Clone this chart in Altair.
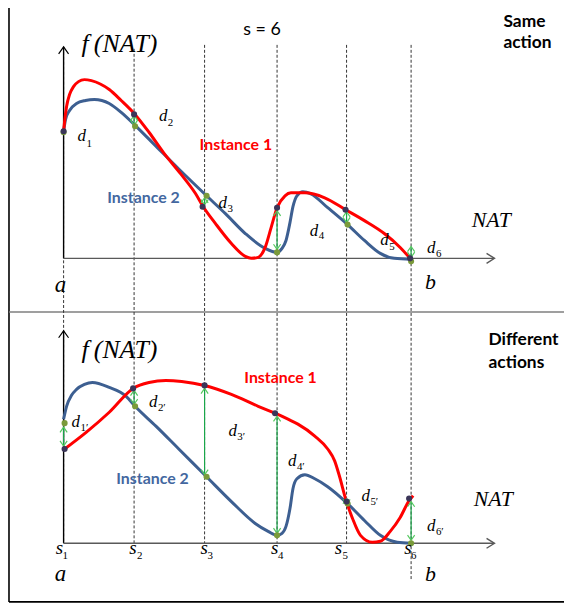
import altair as alt
import pandas as pd

# ---------------- data (reference pixel coordinates, y grows downward) ----------------
# top panel ("Same action")
top_red_x = [64, 65, 67, 70, 74, 79, 85, 92, 110, 122, 135, 150, 165, 182, 197, 204, 217, 233, 247, 253, 260, 267, 273, 279, 287, 293, 307, 327, 348, 367, 387, 403, 413]
top_red_y = [130, 120, 105, 93, 85, 80, 78, 79, 88, 99, 112, 131, 152, 173, 193, 205, 223, 243, 256, 258, 257, 247, 227, 207, 195, 192, 192, 197, 209, 220, 233, 247, 258]
top_blue_x = [64, 66, 70, 77, 86, 95, 110, 122, 136, 157, 180, 208, 227, 247, 267, 279, 284, 288, 292, 295, 299, 305, 313, 330, 350, 367, 383, 397, 414]
top_blue_y = [130, 118, 109, 102, 99, 98, 102, 111, 124, 145, 168, 195, 213, 233, 248, 252, 248, 240, 222, 206, 195, 191, 193, 207, 224, 240, 253, 258, 259]

# bottom panel ("Different actions")
bot_blue_x = [64, 67, 72, 77, 85, 93, 110, 127, 136, 157, 180, 208, 233, 257, 270, 279, 284, 288, 292, 295, 299, 307, 317, 330, 350, 367, 383, 400, 414]
bot_blue_y = [420, 407, 396, 390, 385, 383, 388, 397, 407, 427, 450, 478, 503, 525, 533, 537, 535, 528, 510, 490, 480, 476, 480, 488, 505, 522, 537, 544, 545]
bot_red_x = [65, 87, 110, 134, 150, 167, 183, 206, 233, 260, 277, 290, 300, 317, 330, 337, 342, 348, 355, 363, 375, 383, 393, 403, 412, 416]
bot_red_y = [450, 433, 413, 389, 383, 381, 382, 386, 395, 407, 414, 420, 425, 437, 450, 462, 478, 500, 520, 537, 544, 543, 533, 519, 502, 497]

# sample points
dark_x = [64, 135, 204, 279, 348, 413, 65, 134, 206, 277, 349, 412]
dark_y = [130, 113, 206, 207, 209, 258, 450, 389, 386, 414, 503, 500]
green_x = [64, 136, 208, 279, 350, 414, 65, 136, 208, 279, 350, 414]
green_y = [131, 125, 195, 252, 224, 261, 424, 407, 478, 537, 505, 545]

# distance arrows (x, upper end, lower end)
arr_x = [135, 206, 279, 349, 414, 64, 135, 206, 279, 349, 414]
arr_y1 = [114, 197, 210, 211, 246, 428, 391, 389, 417, 500, 503]
arr_y2 = [124, 204, 249, 222, 257, 447, 405, 476, 535, 506, 542]

# dashed segment lines
s_x = [64, 135, 206, 279, 349, 414]
s_top = [45, 47, 43, 43, 43, 43]
s_bot = [545, 545, 545, 545, 545, 582]

# sans labels
lab_text = ["s = 6", "Same", "action", "Different", "actions", "Instance 1", "Instance 2", "Instance 1", "Instance 2"]
lab_x = [245, 507, 507, 492, 492, 201, 108, 246, 117]
lab_y = [33, 25, 46, 345, 368, 149, 202, 384, 485]
lab_color = ["#000000", "#000000", "#000000", "#000000", "#000000", "#ff0000", "#43679f", "#ff0000", "#43679f"]
lab_size = [18, 17.5, 17.5, 17.5, 17.5, 16, 16, 16, 16]
lab_bold = [False, True, True, True, True, True, True, True, True]

# serif italic labels (main glyphs)
math_text = ["f\u2009(NAT)", "NAT", "a", "b", "f\u2009(NAT)", "NAT", "a", "b",
             "d", "d", "d", "d", "d", "d", "d", "d", "d", "d", "d", "d",
             "s", "s", "s", "s", "s", "s"]
math_x = [82, 475, 55, 428, 82, 477, 55, 428,
          78, 160, 220, 312, 383, 430, 72, 150, 230, 290, 364, 430,
          56, 130, 202, 273, 337, 407]
math_y = [50, 226, 292, 289, 358, 507, 583, 583,
          140, 120, 207, 235, 245, 253, 428, 408, 437, 467, 502, 533,
          556, 556, 556, 556, 556, 556]
math_size = [26, 22, 23, 22, 26, 22, 23, 22] + [17] * 12 + [19] * 6

# subscripts
sub_text = ["1", "2", "3", "4", "5", "6", "1′", "2′", "3′", "4′", "5′", "6′",
            "1", "2", "3", "4", "5", "6"]
sub_x = [87, 169, 229, 321, 392, 439, 81, 159, 239, 299, 373, 439,
         63, 138, 209, 280, 345, 414]
sub_y = [146, 125, 211, 239, 250, 257, 432, 412, 441, 471, 506, 537,
         561, 561, 561, 561, 561, 561]

# frame / axis lines
ax_x1 = [64, 64, 64, 64]
ax_y1 = [45, 258, 331, 545]
ax_x2 = [64, 497, 64, 497]
ax_y2 = [258, 258, 545, 545]
ax_col = ["#000000", "#595959", "#000000", "#595959"]

frame_x1 = [9, 9, 9]
frame_y1 = [0, 312, 604]
frame_x2 = [9, 572, 572]
frame_y2 = [604, 312, 604]
frame_col = ["#000000", "#7f7f7f", "#000000"]

# ---------------- chart ----------------
W, H = 560, 597
X0, Y0 = 8, 8
xs = alt.Scale(domain=[X0, X0 + W], nice=False, zero=False)
ys = alt.Scale(domain=[Y0 + H, Y0], nice=False, zero=False)


def X(f):
    return alt.X(f, type="quantitative", scale=xs, axis=None)


def Y(f):
    return alt.Y(f, type="quantitative", scale=ys, axis=None)


curves = pd.concat([
    pd.DataFrame({"x": top_blue_x, "y": top_blue_y, "c": "tb", "col": "#3d5f91"}),
    pd.DataFrame({"x": bot_blue_x, "y": bot_blue_y, "c": "bb", "col": "#3d5f91"}),
    pd.DataFrame({"x": top_red_x, "y": top_red_y, "c": "tr", "col": "#ff0000"}),
    pd.DataFrame({"x": bot_red_x, "y": bot_red_y, "c": "br", "col": "#ff0000"}),
])
curves["i"] = range(len(curves))

frame_df = pd.DataFrame({"x": frame_x1, "y": frame_y1, "x2": frame_x2, "y2": frame_y2, "col": frame_col})
axis_df = pd.DataFrame({"x": ax_x1, "y": ax_y1, "x2": ax_x2, "y2": ax_y2, "col": ax_col})
dash_df = pd.DataFrame({"x": s_x, "y": s_top, "y2": s_bot})
arr_df = pd.DataFrame({"x": arr_x, "y": arr_y1, "y2": arr_y2})
dots = pd.concat([
    pd.DataFrame({"x": green_x, "y": green_y, "col": "#7a9a3a"}),
    pd.DataFrame({"x": dark_x, "y": dark_y, "col": "#3b3558"}),
])
lab_df = pd.DataFrame({"t": lab_text, "x": lab_x, "y": lab_y, "col": lab_color, "s": lab_size, "b": lab_bold})
math_df = pd.DataFrame({"t": math_text, "x": math_x, "y": math_y, "s": math_size})
sub_df = pd.DataFrame({"t": sub_text, "x": sub_x, "y": sub_y})

frame = alt.Chart(frame_df).mark_rule(strokeWidth=1.6).encode(
    x=X("x"), y=Y("y"), x2="x2", y2="y2", color=alt.Color("col:N", scale=None))
dashes = alt.Chart(dash_df).mark_rule(strokeWidth=1, strokeDash=[3, 2], color="#333333").encode(
    x=X("x"), y=Y("y"), y2="y2")
axes = alt.Chart(axis_df).mark_rule(strokeWidth=1.4).encode(
    x=X("x"), y=Y("y"), x2="x2", y2="y2", color=alt.Color("col:N", scale=None))
up_tips = alt.Chart(pd.DataFrame({"x": [64, 64], "y": [45, 331]})).mark_point(
    shape="M-1,1.4L0,0L1,1.4", size=100, filled=False, color="#000000", strokeWidth=1.2, opacity=1
).encode(x=X("x"), y=Y("y"))
right_tips = alt.Chart(pd.DataFrame({"x": [498, 498], "y": [258, 545]})).mark_point(
    shape="M-1.6,-1L0,0L-1.6,1", size=100, filled=False, color="#595959", strokeWidth=1.4, opacity=1
).encode(x=X("x"), y=Y("y"))

lines = alt.Chart(curves).mark_line(interpolate="monotone", strokeWidth=3).encode(
    x=X("x"), y=Y("y"), detail="c:N", order="i:Q", color=alt.Color("col:N", scale=None))

shafts = alt.Chart(arr_df).mark_rule(strokeWidth=1.2, color="#1aa64a").encode(
    x=X("x"), y=Y("y"), y2="y2")
a_up = alt.Chart(arr_df).mark_point(
    shape="M-0.9,1.3L0,0L0.9,1.3", size=64, filled=False, color="#55c95f", strokeWidth=1.2, opacity=1
).encode(x=X("x"), y=Y("y"))
a_dn = alt.Chart(arr_df).mark_point(
    shape="M-0.9,-1.3L0,0L0.9,-1.3", size=64, filled=False, color="#55c95f", strokeWidth=1.2, opacity=1
).encode(x=X("x"), y=Y("y2"))

pts = alt.Chart(dots).mark_circle(size=38, opacity=1).encode(
    x=X("x"), y=Y("y"), color=alt.Color("col:N", scale=None))

lab_enc = dict(x=X("x"), y=Y("y"), text="t:N", color=alt.Color("col:N", scale=None),
               size=alt.Size("s:Q", scale=None))
labels_reg = alt.Chart(lab_df[~lab_df["b"]]).mark_text(
    align="left", baseline="alphabetic", font="Lato").encode(**lab_enc)
labels_bold = alt.Chart(lab_df[lab_df["b"]]).mark_text(
    align="left", baseline="alphabetic", font="Lato", fontWeight="bold").encode(**lab_enc)
math = alt.Chart(math_df).mark_text(align="left", baseline="alphabetic", font="Liberation Serif",
                                    fontStyle="italic", color="#000000").encode(
    x=X("x"), y=Y("y"), text="t:N", size=alt.Size("s:Q", scale=None))
subs = alt.Chart(sub_df).mark_text(align="left", baseline="alphabetic", font="Liberation Serif",
                                   fontSize=11, color="#000000").encode(
    x=X("x"), y=Y("y"), text="t:N")

chart = alt.layer(frame, dashes, axes, up_tips, right_tips, lines, shafts, a_up, a_dn, pts,
                  labels_reg, labels_bold, math, subs).properties(
    width=W, height=H, padding=0, autosize=alt.AutoSizeParams(type="none"), background="white"
).configure_view(stroke=None)

chart.save("out.html", embed_options={"renderer": "svg", "actions": False})
